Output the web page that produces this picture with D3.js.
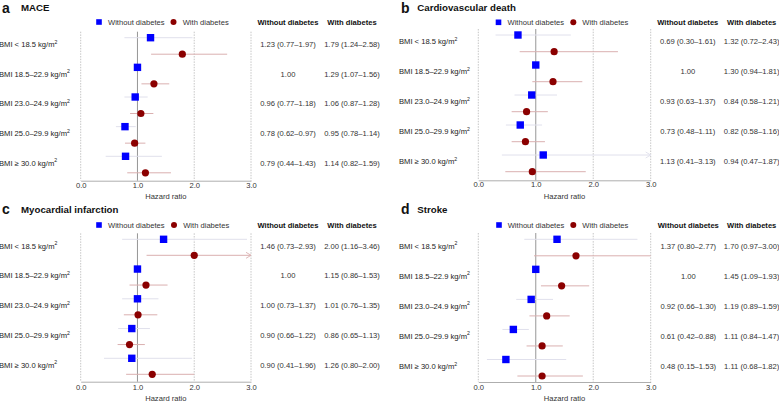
<!DOCTYPE html>
<html><head><meta charset="utf-8">
<script src="https://cdn.jsdelivr.net/npm/d3@7"></script>
<style>
html,body{margin:0;padding:0;background:#fff;}
svg{display:block;font-family:"Liberation Sans",Arial,Helvetica,sans-serif;}
</style></head>
<body>
<svg id="chart" width="779" height="402"></svg>
<script>
// ---------- data ----------
const rowLabels = ["BMI < 18.5 kg/m", "BMI 18.5\u201322.9 kg/m", "BMI 23.0\u201324.9 kg/m", "BMI 25.0\u201329.9 kg/m", "BMI \u2265 30.0 kg/m"];
const seriesNames = ["Without diabetes", "With diabetes"];
const tickValues = [0, 1, 2, 3];
const tickLabels = ["0.0", "1.0", "2.0", "3.0"];
const panelLetters = ["a", "b", "c", "d"];
const panelTitles = ["MACE", "Cardiovascular death", "Myocardial infarction", "Stroke"];

// [HR, lower, upper]; reference rows have no interval
const maceWithout = [[1.23,0.77,1.97],[1.00,null,null],[0.96,0.77,1.18],[0.78,0.62,0.97],[0.79,0.44,1.43]];
const maceWith    = [[1.79,1.24,2.58],[1.29,1.07,1.56],[1.06,0.87,1.28],[0.95,0.78,1.14],[1.14,0.82,1.59]];
const cvdWithout  = [[0.69,0.30,1.61],[1.00,null,null],[0.93,0.63,1.37],[0.73,0.48,1.11],[1.13,0.41,3.13]];
const cvdWith     = [[1.32,0.72,2.43],[1.30,0.94,1.81],[0.84,0.58,1.21],[0.82,0.58,1.16],[0.94,0.47,1.87]];
const miWithout   = [[1.46,0.73,2.93],[1.00,null,null],[1.00,0.73,1.37],[0.90,0.66,1.22],[0.90,0.41,1.96]];
const miWith      = [[2.00,1.16,3.46],[1.15,0.86,1.53],[1.01,0.76,1.35],[0.86,0.65,1.13],[1.26,0.80,2.00]];
const strokeWithout = [[1.37,0.80,2.77],[1.00,null,null],[0.92,0.66,1.30],[0.61,0.42,0.88],[0.48,0.15,1.53]];
const strokeWith    = [[1.70,0.97,3.00],[1.45,1.09,1.93],[1.19,0.89,1.59],[1.11,0.84,1.47],[1.11,0.68,1.82]];

const panelData = [[maceWithout, maceWith],[cvdWithout, cvdWith],[miWithout, miWith],[strokeWithout, strokeWith]];

// ---------- layout ----------
const layouts = [
  {x0:80.7, x3:251, labelX:-1, col1:288, col2:352, letterX:2, letterY:12.6, titleX:21, titleY:11,
   legY:22, legSq:99, legSqT:108, legCi:173.5, legCiT:182.7, sq0:37.7, sq4:156.3, circOff:16.5,
   gridTop:31.7, axisY:180.7, tickY:187.5, xlabY:198.5},
  {x0:478.3, x3:650.7, labelX:399, col1:687.8, col2:751.7, letterX:401, letterY:12.8, titleX:417.3, titleY:11,
   legY:22.3, legSq:498.5, legSqT:507.5, legCi:573.3, legCiT:582.3, sq0:35, sq4:155, circOff:16.7,
   gridTop:29, axisY:180.3, tickY:187.5, xlabY:198.5},
  {x0:80.7, x3:251, labelX:-1, col1:288, col2:352, letterX:2, letterY:213.5, titleX:21, titleY:213,
   legY:225, legSq:99, legSqT:108, legCi:174, legCiT:183.2, sq0:239.3, sq4:358.3, circOff:16,
   gridTop:233.3, axisY:381.7, tickY:390, xlabY:401.3},
  {x0:478.3, x3:650.7, labelX:399, col1:688.3, col2:751.7, letterX:401, letterY:214, titleX:417.3, titleY:213,
   legY:225, legSq:499, legSqT:507.7, legCi:573.3, legCiT:582.3, sq0:239.3, sq4:359.5, circOff:16.5,
   gridTop:233, axisY:382, tickY:390, xlabY:401.3}
];

const BLUE = "#0000ff", RED = "#8b0000";
const ciColors = ["#e0e0ec", "#dab0b0"];
const fs = 7.6;
const svg = d3.select("#chart");
const fmt = d3.format(".2f");

panelData.forEach((pd, p) => {
  const L = layouts[p];
  const g = svg.append("g");
  const x = d3.scaleLinear().domain([0, 3]).range([L.x0, L.x3]);
  const y = d3.scaleLinear().domain([0, rowLabels.length - 1]).range([L.sq0, L.sq4]);

  // title
  g.append("text").attr("x", L.letterX).attr("y", L.letterY).attr("font-size", 14).attr("font-weight", "bold").attr("fill", "#111").text(panelLetters[p]);
  g.append("text").attr("x", L.titleX).attr("y", L.titleY).attr("font-size", 9.7).attr("font-weight", "bold").attr("fill", "#111").text(panelTitles[p]);

  // legend
  g.append("rect").attr("x", L.legSq - 2.8).attr("y", L.legY - 2.8).attr("width", 5.6).attr("height", 5.6).attr("fill", BLUE);
  g.append("text").attr("x", L.legSqT).attr("y", L.legY + 2.7).attr("font-size", fs).attr("fill", "#333").text(seriesNames[0]);
  g.append("circle").attr("cx", L.legCi).attr("cy", L.legY).attr("r", 3).attr("fill", RED);
  g.append("text").attr("x", L.legCiT).attr("y", L.legY + 2.7).attr("font-size", fs).attr("fill", "#333").text(seriesNames[1]);

  // table headers
  g.append("text").attr("x", L.col1).attr("y", L.legY + 2.7).attr("text-anchor", "middle").attr("font-size", fs).attr("font-weight", "bold").attr("fill", "#111").text(seriesNames[0]);
  g.append("text").attr("x", L.col2).attr("y", L.legY + 2.7).attr("text-anchor", "middle").attr("font-size", fs).attr("font-weight", "bold").attr("fill", "#111").text(seriesNames[1]);

  // gridlines
  tickValues.forEach(v => {
    g.append("line").attr("x1", x(v)).attr("x2", x(v)).attr("y1", L.gridTop).attr("y2", L.axisY)
      .attr("stroke", v === 1 ? "#8a8a8a" : "#b8b8b8").attr("stroke-width", v === 1 ? 0.9 : 0.8)
      .attr("stroke-dasharray", v === 1 ? null : "1.5,1.2");
  });

  // axis
  const axis = d3.axisBottom(x).tickValues(tickValues).tickFormat((d, i) => tickLabels[i]).tickSize(0).tickPadding(0);
  const ag = g.append("g").attr("transform", `translate(0,${L.axisY})`).call(axis);
  ag.select(".domain").attr("stroke", "#999").attr("stroke-width", 0.8);
  ag.selectAll("text").attr("font-size", fs).attr("fill", "#333").attr("font-family", null)
    .attr("dy", null).attr("y", L.tickY - L.axisY);
  g.append("text").attr("x", (L.x0 + L.x3) / 2).attr("y", L.xlabY).attr("text-anchor", "middle").attr("font-size", fs).attr("fill", "#333").text("Hazard ratio");

  // row labels + table values
  rowLabels.forEach((lab, i) => {
    const ty = y(i) + 9.2;
    const t = g.append("text").attr("x", L.labelX).attr("y", ty).attr("font-size", fs).attr("fill", "#222");
    t.append("tspan").text(lab);
    t.append("tspan").attr("font-size", 5.2).attr("dy", -3.2).text("2");
    pd.forEach((ser, s) => {
      const d = ser[i];
      const txt = d[1] == null ? fmt(d[0]) : `${fmt(d[0])} (${fmt(d[1])}\u2013${fmt(d[2])})`;
      g.append("text").attr("x", s === 0 ? L.col1 : L.col2).attr("y", ty).attr("text-anchor", "middle").attr("font-size", fs).attr("fill", "#333").text(txt);
    });
  });

  // CI lines
  pd.forEach((ser, s) => {
    ser.forEach((d, i) => {
      if (d[1] == null) return;
      const yy = y(i) + (s === 1 ? L.circOff : 0);
      const hi = Math.min(d[2], 3);
      g.append("line").attr("x1", x(d[1])).attr("x2", x(hi)).attr("y1", yy).attr("y2", yy)
        .attr("stroke", ciColors[s]).attr("stroke-width", 1);
      if (d[2] > 3) {
        g.append("path").attr("d", `M${x(3) - 5},${yy - 3}L${x(3)},${yy}L${x(3) - 5},${yy + 3}`)
          .attr("fill", "none").attr("stroke", ciColors[s]).attr("stroke-width", 0.9);
      }
    });
  });

  // points
  g.selectAll("rect.pt").data(pd[0]).enter().append("rect").attr("class", "pt")
    .attr("x", d => x(d[0]) - 3.7).attr("y", (d, i) => y(i) - 3.7).attr("width", 7.4).attr("height", 7.4).attr("fill", BLUE);
  g.selectAll("circle.pt").data(pd[1]).enter().append("circle").attr("class", "pt")
    .attr("cx", d => x(d[0])).attr("cy", (d, i) => y(i) + L.circOff).attr("r", 3.6).attr("fill", RED);
});
</script>
</body></html>
